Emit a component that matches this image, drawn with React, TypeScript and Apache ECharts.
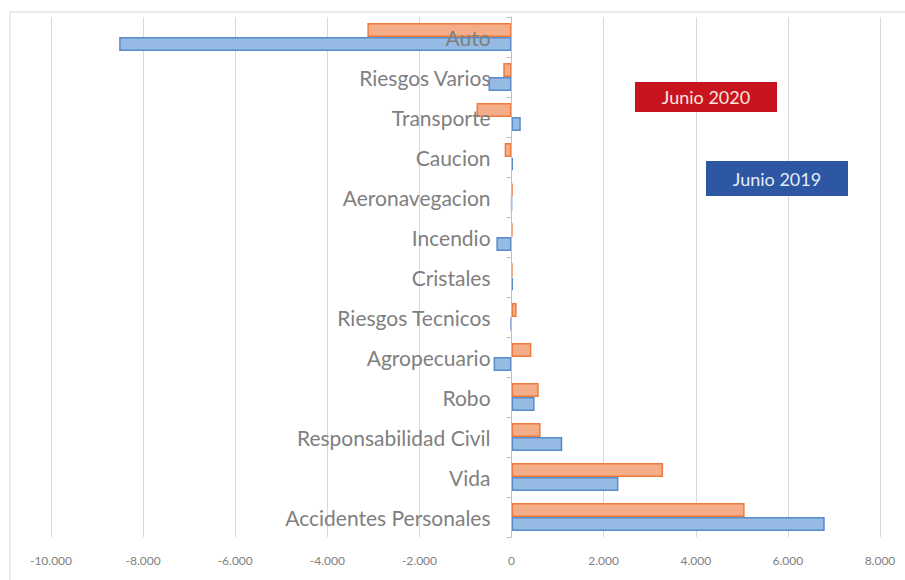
import React, { useEffect, useRef } from "react";
import * as echarts from "echarts";

const categories = [
  "Accidentes Personales",
  "Vida",
  "Responsabilidad Civil",
  "Robo",
  "Agropecuario",
  "Riesgos Tecnicos",
  "Cristales",
  "Incendio",
  "Aeronavegacion",
  "Caucion",
  "Transporte",
  "Riesgos Varios",
  "Auto",
];

const junio2020 = [5060, 3290, 630, 590, 430, 110, 15, 15, 20, -150, -760, -180, -3130];
const junio2019 = [6800, 2320, 1100, 500, -390, -20, 30, -330, 0, 30, 200, -500, -8520];

const legend2020 = "Junio 2020";
const legend2019 = "Junio 2019";

const xMin = -10000;
const xMax = 8000;
const xStep = 2000;

function fmt(v: number) {
  const s = Math.abs(v).toString().replace(/\B(?=(\d{3})+(?!\d))/g, ".");
  return (v < 0 ? "-" : "") + s;
}

export default function App() {
  const ref = useRef<HTMLDivElement>(null);
  useEffect(() => {
    document.body.style.margin = "0";
    const chart = echarts.init(ref.current!, null, { renderer: "svg" });
    const font = "Lato, 'Open Sans', sans-serif";
    const gridLeft = 51;
    const gridRight = 25;
    const plotW = 905 - gridLeft - gridRight;
    const zeroOffset = (plotW * (0 - xMin)) / (xMax - xMin);
    chart.setOption({
      animation: false,
      backgroundColor: "#ffffff",
      grid: {
        left: gridLeft,
        right: gridRight,
        top: 17,
        bottom: 43,
        containLabel: false,
        outerBoundsMode: "none",
      },
      xAxis: {
        type: "value",
        min: xMin,
        max: xMax,
        interval: xStep,
        axisLine: { show: false },
        axisTick: { show: false },
        splitLine: { show: true, lineStyle: { color: "#D9D9D9", width: 1 } },
        axisLabel: {
          formatter: (v: number) => fmt(v),
          color: "#7F7F7F",
          fontSize: 12,
          fontFamily: font,
          margin: 17,
        },
      },
      yAxis: {
        type: "category",
        data: categories,
        offset: -zeroOffset,
        z: 5,
        axisLine: { show: true, onZero: false, lineStyle: { color: "#BFBFBF" } },
        axisTick: { show: true, length: 5, lineStyle: { color: "#BFBFBF" } },
        axisLabel: {
          color: "#7F7F7F",
          fontSize: 21,
          fontFamily: font,
          margin: 21,
        },
        splitLine: { show: false },
      },
      series: [
        {
          name: legend2020,
          type: "bar",
          data: junio2020,
          barGap: "0%",
          barCategoryGap: "30%",
          itemStyle: { color: "#F5AC88", borderColor: "#EB7B3F", borderWidth: 1.5 },
          z: 2,
        },
        {
          name: legend2019,
          type: "bar",
          data: junio2019,
          barGap: "0%",
          barCategoryGap: "30%",
          itemStyle: { color: "#95BAE4", borderColor: "#5A8BC8", borderWidth: 1.5 },
          z: 2,
        },
      ],
      graphic: [
        {
          type: "rect",
          shape: { x: 10, y: 12, width: 920, height: 600 },
          style: { fill: "none", stroke: "#D9D9D9", lineWidth: 1 },
          silent: true,
          z: -10,
        },
        {
          type: "rect",
          shape: { x: 635, y: 82, width: 142, height: 30 },
          style: { fill: "#C8141E" },
          z: 10,
        },
        {
          type: "text",
          x: 706,
          y: 97,
          style: {
            text: legend2020,
            fill: "#F6E6DE",
            fontSize: 18,
            fontFamily: font,
            align: "center",
            verticalAlign: "middle",
          },
          z: 11,
        },
        {
          type: "rect",
          shape: { x: 706, y: 161, width: 142, height: 35 },
          style: { fill: "#2D56A3" },
          z: 10,
        },
        {
          type: "text",
          x: 777,
          y: 179,
          style: {
            text: legend2019,
            fill: "#E6ECF7",
            fontSize: 18,
            fontFamily: font,
            align: "center",
            verticalAlign: "middle",
          },
          z: 11,
        },
      ],
    });
    return () => chart.dispose();
  }, []);
  return <div ref={ref} style={{ width: 905, height: 580 }} />;
}
